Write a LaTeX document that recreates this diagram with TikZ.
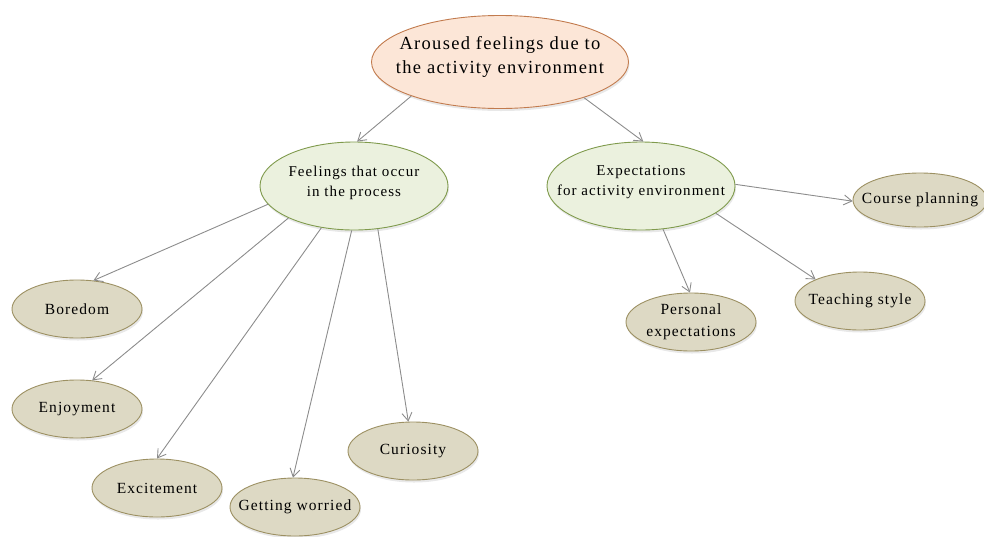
\documentclass[tikz,border=0pt]{standalone}
\usepackage{fontspec}
\setmainfont[LetterSpace=7]{Liberation Serif}
\usetikzlibrary{shapes.geometric,arrows.meta,shadows}

\definecolor{peachfill}{HTML}{FCE6D7}
\definecolor{peachline}{HTML}{C27B4E}
\definecolor{greenfill}{HTML}{EBF1DE}
\definecolor{greenline}{HTML}{7F9A4C}
\definecolor{tanfill}{HTML}{DDD9C4}
\definecolor{tanline}{HTML}{9C9062}
\definecolor{linkgray}{HTML}{8C8C8C}

\tikzset{
  % negative inner sep: the ellipse keeps its minimum size whatever the text width
  bubble/.style={ellipse, inner sep=-30pt, align=center, line width=0.9pt,
    drop shadow={opacity=0.18, shadow xshift=1pt, shadow yshift=-2.5pt}},
  rootbubble/.style={bubble, draw=peachline, fill=peachfill,
    minimum width=257pt, minimum height=93pt},
  midbubble/.style={bubble, draw=greenline, fill=greenfill,
    minimum width=188pt, minimum height=88pt},
  leafbubble/.style={bubble, draw=tanline, fill=tanfill,
    minimum width=130pt, minimum height=58pt,
    font=\fontsize{15.5}{22}\selectfont},
  roottext/.style={align=center, font=\fontsize{18.5}{24}\selectfont},
  midtext/.style={align=center, font=\fontsize{15}{20}\selectfont},
  link/.style={draw=linkgray, line width=0.9pt,
    -{Straight Barb[length=8pt,width=10pt,line width=0.9pt]}}
}

\begin{document}
\begin{tikzpicture}[x=1pt,y=-1pt]
\useasboundingbox (0,0) rectangle (984,536);

% top concept
\node[rootbubble] (root) at (500,62) {};
\node[roottext] (rootlabel) at (500,57) {Aroused feelings due to\\the activity environment};

% second level
\node[midbubble] (feel) at (354,186) {};
\node[midtext] (feellabel) at (354,183) {Feelings that occur\\in the process};
\node[midbubble] (expect) at (641,186) {};
\node[midtext] (expectlabel) at (641,182) {Expectations\\for activity environment};

% feelings in the process
\node[leafbubble] (bore) at (77,309) {Boredom};
\node[leafbubble] (enjoy) at (77,409) {Enjoyment};
\node[leafbubble] (excite) at (157,488) {Excitement};
\node[leafbubble] (worry) at (295,507) {Getting worried};
\node[leafbubble] (curious) at (413,451) {Curiosity};

% expectations
\node[leafbubble, minimum width=134pt, minimum height=54pt] (course) at (920,200) {Course planning};
\node[leafbubble] (personal) at (691,322) {Personal\\expectations};
\node[leafbubble] (teach) at (860,301) {Teaching style};

% connectors
\draw[link] (root.201.8) -- (feel.86.4);
\draw[link] (root.337) -- (expect.87.5);

\draw[link] (feel.192) -- (bore.60);
\draw[link] (feel.206) -- (enjoy.62.6);
\draw[link] (feel.232) -- (excite.90);
\draw[link] (feel.267.5) -- (worry.94);
\draw[link] (feel.299.5) -- (curious.99);

\draw[link] (expect.1.8) -- (course.181);
\draw[link] (expect.297.6) -- (personal.92);
\draw[link] (expect.340.7) -- (teach.154.4);
\end{tikzpicture}
\end{document}
